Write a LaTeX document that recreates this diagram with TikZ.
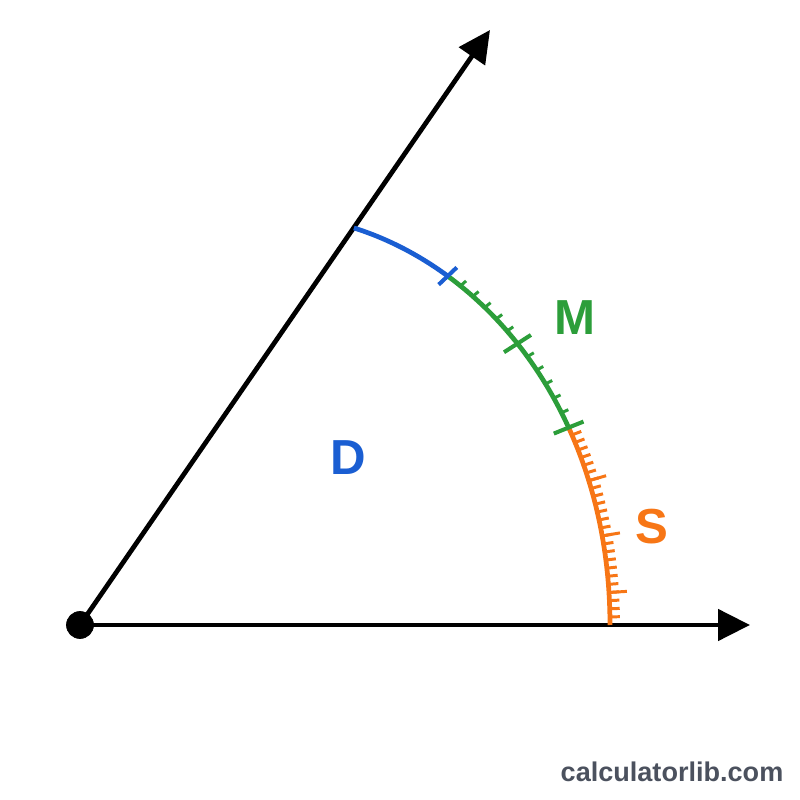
\documentclass[tikz,border=0pt]{standalone}
\usepackage{fontspec}
\setmainfont{Liberation Sans}
\usetikzlibrary{arrows.meta}
\definecolor{arcblue}{RGB}{26,94,210}
\definecolor{arcgreen}{RGB}{44,158,58}
\definecolor{arcorange}{RGB}{247,118,22}
\definecolor{markgray}{RGB}{75,81,94}
\tikzset{
    ray/.style={line width=2.7pt,-{Triangle[length=0.64cm,width=0.62cm]}},
    arcline/.style={line width=2.7pt},
    minortick/.style={line width=1.7pt},
    majortick/.style={line width=2.3pt},
    lab/.style={font=\fontsize{28}{28}\selectfont\bfseries}
}
\begin{document}
\begin{tikzpicture}[declare function={arcr(\t)=10.6-0.0056*(\t/10)^3;}]
        \useasboundingbox (-1.6,-3.5) rectangle (14.4,12.5);
        %% vertex and rays
        \coordinate (O) at (0,0);
        \coordinate (X) at (13.4,0);
        \coordinate (Y) at (8.2,11.9);
        \draw[ray] (O) -- (X);
        \draw[ray] (O) -- (Y);
        \draw[fill] (O) circle (0.27);
        %% arc D (blue)
        \draw[arcline,arcblue,domain=43.5:55.4,samples=30]
            plot ({arcr(\x)*cos(\x)},{arcr(\x)*sin(\x)});
        %% arc M (green)
        \draw[arcline,arcgreen,domain=22:43.5,samples=40]
            plot ({arcr(\x)*cos(\x)},{arcr(\x)*sin(\x)});
        %% arc S (orange)
        \draw[arcline,arcorange,domain=0:22,samples=40]
            plot ({arcr(\x)*cos(\x)},{arcr(\x)*sin(\x)});
        %% minor ticks on M
        \foreach \k [evaluate=\k as \t using 22+\k*1.7917] in {1,...,5,7,8,...,11}
            \draw[minortick,arcgreen] (\t:{arcr(\t)}) -- (\t:{arcr(\t)+0.15});
        %% major ticks
        \foreach \t in {22,32.75}
            \draw[majortick,arcgreen] (\t:{arcr(\t)-0.32}) -- (\t:{arcr(\t)+0.32});
        \draw[majortick,arcblue] (43.5:{arcr(43.5)-0.25}) -- (43.5:{arcr(43.5)+0.25});
        %% ticks on S
        \foreach \k [evaluate=\k as \t using 22-\k*0.88] in {1,...,24}
            \draw[minortick,arcorange] (\t:{arcr(\t)}) -- (\t:{arcr(\t)+0.2});
        \foreach \k [evaluate=\k as \t using 22-\k*0.88] in {7,14,21}
            \draw[minortick,arcorange] (\t:{arcr(\t)}) -- (\t:{arcr(\t)+0.36});
        %% labels D, M, S
        \node[lab,text=arcblue] (D) at (5.36,3.34) {D};
        \node[lab,text=arcgreen] (M) at (9.9,6.14) {M};
        \node[lab,text=arcorange] (S) at (11.44,1.96) {S};
        \node[font=\fontsize{15.4}{15.4}\selectfont\bfseries,text=markgray] (site) at (11.84,-2.94) {calculatorlib.com};
    \end{tikzpicture}
\end{document}
